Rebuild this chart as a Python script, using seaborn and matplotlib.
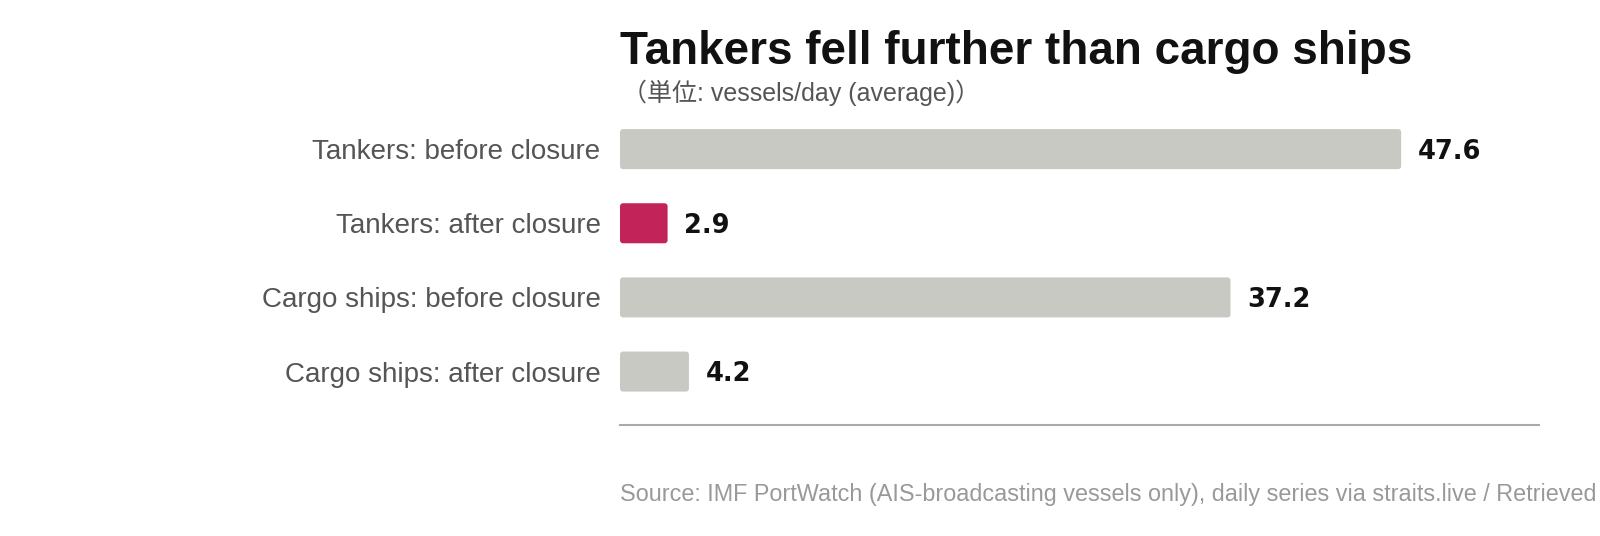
import matplotlib
matplotlib.use("Agg")
import matplotlib.pyplot as plt
from matplotlib.patches import FancyBboxPatch
import seaborn as sns
import pandas as pd

categories = ["Tankers: before closure", "Tankers: after closure",
              "Cargo ships: before closure", "Cargo ships: after closure"]
values = [47.6, 2.9, 37.2, 4.2]
value_labels = ["47.6", "2.9", "37.2", "4.2"]
title = "Tankers fell further than cargo ships"
subtitle = "（単位: vessels/day (average)）"
source = "Source: IMF PortWatch (AIS-broadcasting vessels only), daily series via straits.live / Retrieved 2026-03"

GRAY = "#c9c9c4"
PINK = "#c2245a"
colors = [GRAY, PINK, GRAY, GRAY]

sns.set_theme(style="white")
plt.rcParams['font.family'] = ['Liberation Sans', 'Noto Sans CJK JP', 'DejaVu Sans']

df = pd.DataFrame({"cat": categories, "val": values})

fig = plt.figure(figsize=(16, 5.36), dpi=100)
ax = fig.add_axes([0.3875, 0.208, 0.9619 - 0.3875, 0.791 - 0.208])

sns.barplot(data=df, y="cat", x="val", hue="cat", palette=colors, legend=False,
            orient="h", width=0.54, ax=ax, order=categories, hue_order=categories,
            saturation=1)

ax.set_xlim(0, 56)
ax.set_ylim(3.714, -0.5)

# rounded corners for bars
fig.canvas.draw()
bbox = ax.get_window_extent()
px_per_x = bbox.width / 56.0
px_per_y = bbox.height / 4.214
aspect = px_per_x / px_per_y
radius = 3.0 / px_per_x
for p in list(ax.patches):
    x, y = p.get_x(), p.get_y()
    w, h = p.get_width(), p.get_height()
    fc = p.get_facecolor()
    p.remove()
    fb = FancyBboxPatch((x, y), w, h,
                        boxstyle=f"round,pad=0,rounding_size={radius}",
                        mutation_aspect=aspect, facecolor=fc, edgecolor="none")
    ax.add_patch(fb)

ax.set_xlabel("")
ax.set_ylabel("")
ax.set_xticks([])
for s in ["top", "right", "left"]:
    ax.spines[s].set_visible(False)
ax.spines["bottom"].set_color("#aaaaaa")
ax.spines["bottom"].set_linewidth(1.5)
ax.tick_params(axis="y", length=0, pad=14, labelsize=20, labelcolor="#555555")

cap_half = 9.5 / px_per_y
for i, (v, lab) in enumerate(zip(values, value_labels)):
    ax.text(v + 1.0, i + cap_half, lab, va="baseline", ha="left", fontsize=18.5,
            fontweight="bold", color="#111111", family="DejaVu Sans")

fig.text(0.3875, 1 - 63.5 / 536, title, fontsize=33, fontweight="bold",
         color="#111111", va="baseline", ha="left")
fig.text(0.3885, 1 - 101.5 / 536, subtitle, fontsize=18, color="#555555",
         va="baseline", ha="left")
fig.text(0.3875, 1 - 495 / 536, source, fontsize=16.8, color="#999999",
         va="center", ha="left")

fig.savefig("out.png", dpi=100)
